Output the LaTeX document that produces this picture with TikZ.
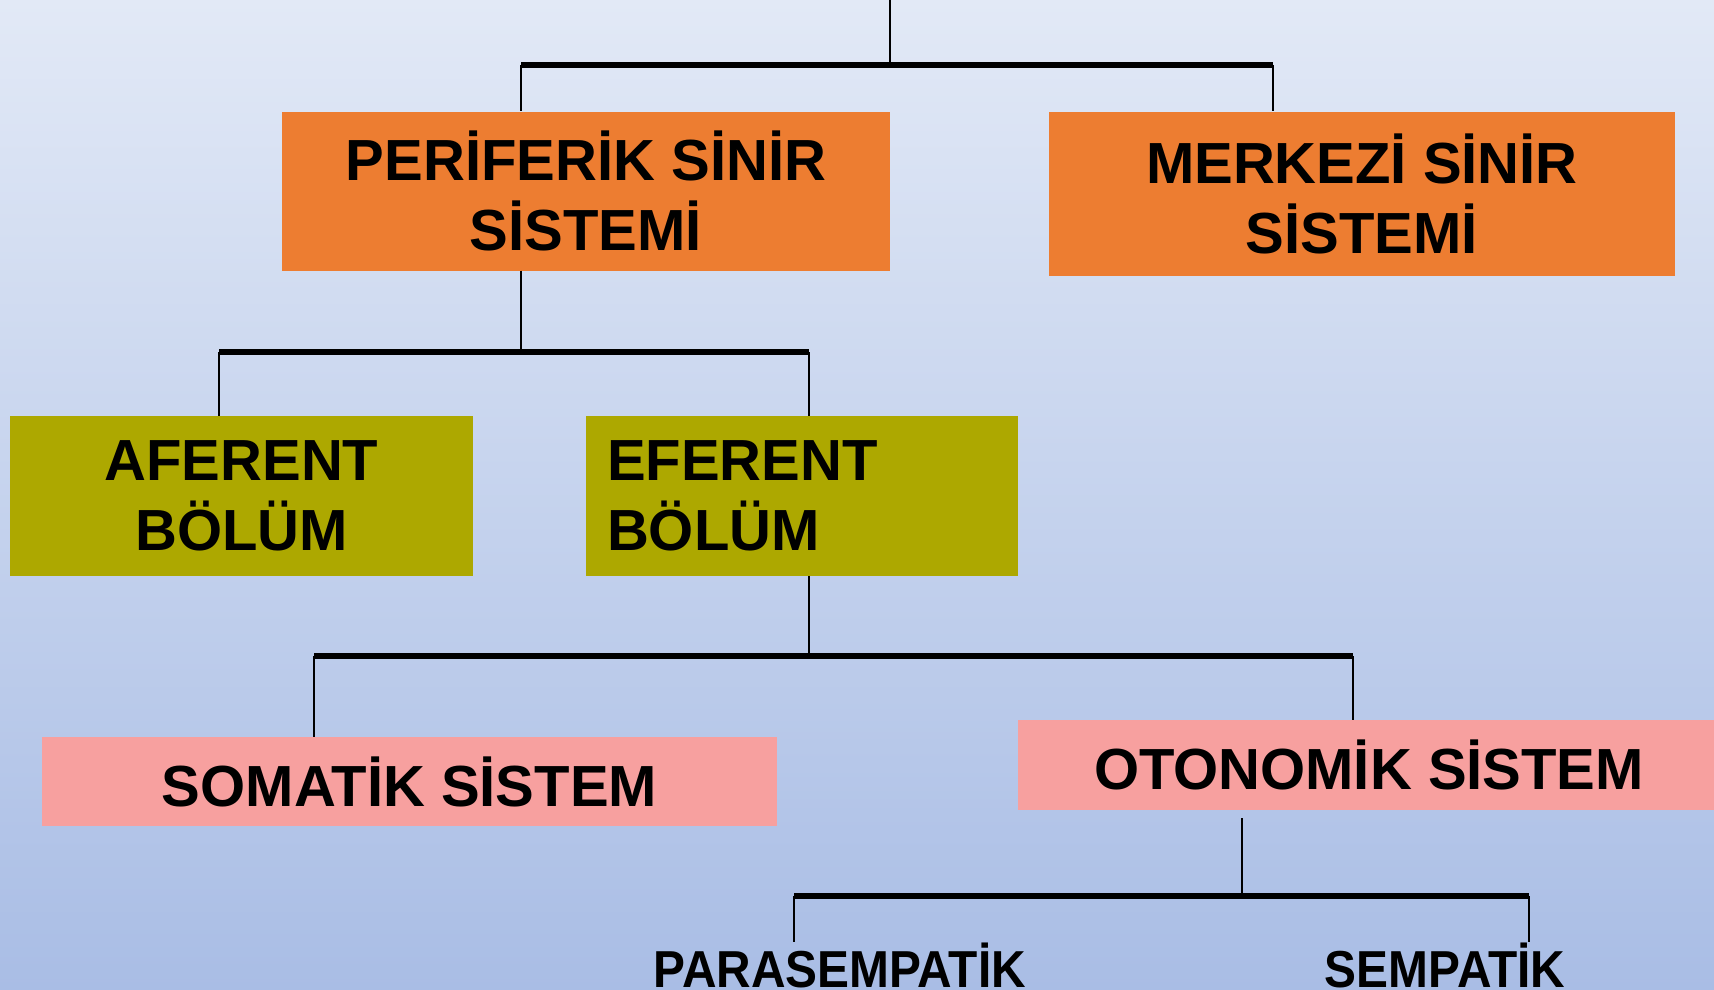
\documentclass[tikz,border=0pt]{standalone}
\usepackage{fontspec}
\setmainfont{Liberation Sans}
\newfontfamily\darfont[FakeStretch=0.92]{Liberation Sans}
\usetikzlibrary{positioning}

\definecolor{turuncu}{HTML}{ED7D31}
\definecolor{zeytin}{HTML}{ADA800}
\definecolor{pembe}{HTML}{F7A09F}
\definecolor{zemust}{HTML}{E2E9F6}
\definecolor{zemalt}{HTML}{A9BDE5}

\begin{document}
\begin{tikzpicture}[x=1pt,y=-1pt]

  \tikzstyle{kutu}=[inner sep=0pt,align=center,
                    font=\bfseries\fontsize{58}{70}\selectfont]
  \tikzstyle{yazi}=[inner sep=0pt,anchor=base,
                    font=\darfont\bfseries\fontsize{52}{60}\selectfont]
  \tikzstyle{ince}=[line width=1.6pt]
  \tikzstyle{kalin}=[line width=6pt]

  \useasboundingbox (0,0) rectangle (1714,990);
  \clip (0,0) rectangle (1714,990);
  \shade[top color=zemust,bottom color=zemalt] (0,0) rectangle (1714,990);

  % kutular
  \node[kutu,fill=turuncu,minimum width=608pt,minimum height=159pt]
    (per) at (586,191) {PERİFERİK SİNİR\\SİSTEMİ};
  \node[kutu,fill=turuncu,minimum width=626pt,minimum height=164pt]
    (mer) at (1362,193.5) {MERKEZİ SİNİR\\SİSTEMİ};
  \node[kutu,fill=zeytin,minimum width=463pt,minimum height=160pt]
    (afe) at (241.5,496) {AFERENT\\BÖLÜM};
  \node[kutu,fill=zeytin,minimum width=432pt,minimum height=160pt,
        inner xsep=21pt,text width=390pt,align=left]
    (efe) at (802,496) {EFERENT\\BÖLÜM};
  \node[kutu,fill=pembe,minimum width=735pt,minimum height=89pt]
    (som) at (409.5,781.5) {SOMATİK SİSTEM};
  \node[kutu,fill=pembe,minimum width=702pt,minimum height=90pt]
    (oto) at (1369,765) {OTONOMİK SİSTEM};
  \node[yazi] (para) at (840,987) {PARASEMPATİK};
  \node[yazi] (semp) at (1445,987) {SEMPATİK};

  % baglanti noktalari
  \coordinate (kok) at (890,0);
  \coordinate (b1) at (890,65);
  \coordinate (b1l) at (521,65);
  \coordinate (b1r) at (1273,65);
  \coordinate (b2) at (521,352);
  \coordinate (b2l) at (219,352);
  \coordinate (b2r) at (809,352);
  \coordinate (b3) at (809,656);
  \coordinate (b3l) at (314,656);
  \coordinate (b3r) at (1353,656);
  \coordinate (b4ust) at (1242,818);
  \coordinate (b4) at (1242,896);
  \coordinate (b4l) at (794,896);
  \coordinate (b4r) at (1529,896);

  \draw[ince] (kok) -- (b1);
  \draw[kalin] (b1l) -- (b1r);
  \draw[ince] (b1l) -- (b1l |- per.north);
  \draw[ince] (b1r) -- (b1r |- mer.north);

  \draw[ince] (b2 |- per.south) -- (b2);
  \draw[kalin] (b2l) -- (b2r);
  \draw[ince] (b2l) -- (b2l |- afe.north);
  \draw[ince] (b2r) -- (b2r |- efe.north);

  \draw[ince] (b3 |- efe.south) -- (b3);
  \draw[kalin] (b3l) -- (b3r);
  \draw[ince] (b3l) -- (b3l |- som.north);
  \draw[ince] (b3r) -- (b3r |- oto.north);

  \draw[ince] (b4ust) -- (b4);
  \draw[kalin] (b4l) -- (b4r);
  \draw[ince] (b4l) -- (b4l |- para.north);
  \draw[ince] (b4r) -- (b4r |- semp.north);
\end{tikzpicture}
\end{document}
